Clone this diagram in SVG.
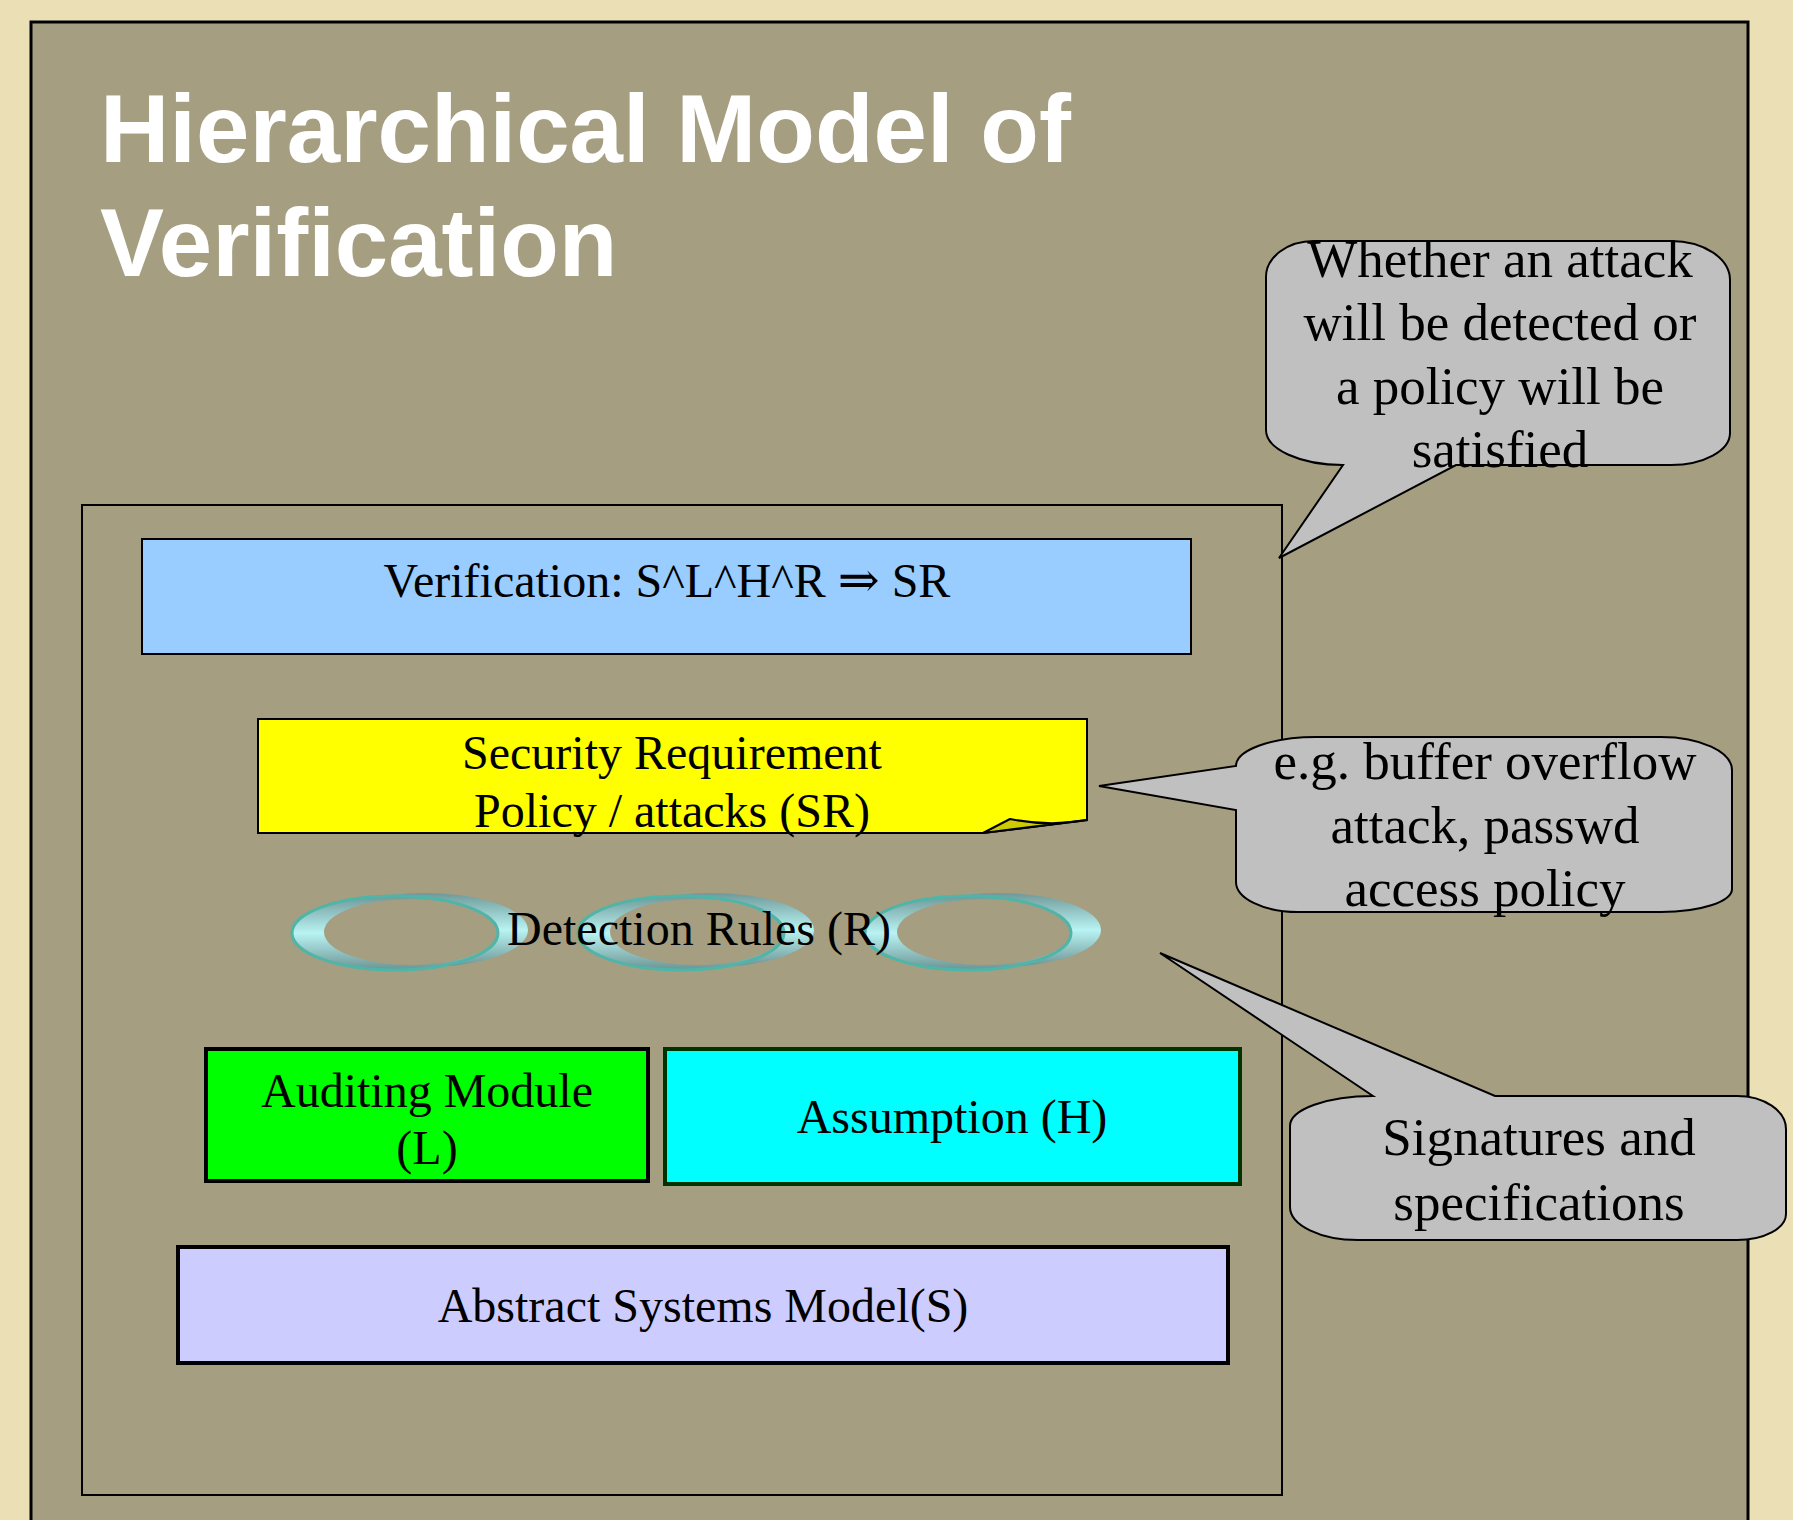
<svg xmlns="http://www.w3.org/2000/svg" xmlns:xlink="http://www.w3.org/1999/xlink" width="1793" height="1520" viewBox="0 0 1793 1520">
<style>
.serif{font-family:"Liberation Serif","Times New Roman",serif;fill:#000}
.t48{font-size:48px}
.t53{font-size:53px}
.title{font-family:"Liberation Sans",Arial,sans-serif;font-weight:bold;font-size:96px;fill:#fff}
.bubble{fill:#C0C0C0;stroke:#000;stroke-width:2;stroke-linejoin:miter}
.frame{fill:none;stroke:#000;stroke-width:2}
.arrow{font-family:"DejaVu Serif","DejaVu Sans",serif;font-size:50px}
</style>
<defs>
<linearGradient id="ringGrad" x1="0" y1="0" x2="0" y2="1">
<stop offset="0" stop-color="#6F9999"/>
<stop offset="0.5" stop-color="#B9F3F3"/>
<stop offset="1" stop-color="#6C9494"/>
</linearGradient>
<g id="ringShape">
<ellipse cx="30" cy="-3" rx="103" ry="37" fill="url(#ringGrad)"/>
<ellipse cx="0" cy="0" rx="103" ry="37" fill="url(#ringGrad)"/>
<ellipse cx="16" cy="-1" rx="87" ry="33" fill="#A59E80"/>
<ellipse cx="0" cy="0" rx="103" ry="37" fill="none" stroke="#4FB5A8" stroke-width="3"/>
</g>
</defs>
<rect x="0" y="0" width="1793" height="1520" fill="#EBDFB6"/>
<rect x="31" y="22" width="1717" height="1600" fill="#A59E80" stroke="#000" stroke-width="3"/>
<g id="title">
<text class="title" x="100" y="162">Hierarchical Model of</text>
<text class="title" x="100" y="276">Verification</text>
</g>
<g id="frame-inner">
<rect class="frame" x="82" y="505" width="1200" height="990"/>
</g>
<g id="connectors"></g>
<g id="node-verification">
<rect x="142" y="539" width="1049" height="115" fill="#99CCFF" stroke="#000" stroke-width="2"/>
<text class="serif t48" x="667" y="597" text-anchor="middle">Verification: S^L^H^R <tspan class="arrow">⇒</tspan> SR</text>
</g>
<g id="node-security-requirement">
<path d="M258,719 H1087 V820 L983,833 H258 Z" fill="#FFFF00" stroke="#000" stroke-width="2"/>
<path d="M983,833 L1010,819 Q1050,827 1087,820 Z" fill="#CCCC00" stroke="#000" stroke-width="2" stroke-linejoin="round"/>
<text class="serif t48" x="672" y="769" text-anchor="middle">Security Requirement</text>
<text class="serif t48" x="672" y="827" text-anchor="middle">Policy / attacks (SR)</text>
</g>
<g id="node-detection-rules">
<use xlink:href="#ringShape" x="395" y="933"/>
<use xlink:href="#ringShape" x="681" y="933"/>
<use xlink:href="#ringShape" x="968" y="933"/>
<text class="serif t48" x="699" y="945" text-anchor="middle">Detection Rules (R)</text>
</g>
<g id="node-auditing">
<rect x="206" y="1049" width="442" height="132" fill="#00FF00" stroke="#000" stroke-width="4"/>
<text class="serif t48" x="427" y="1107" text-anchor="middle">Auditing Module</text>
<text class="serif t48" x="427" y="1164" text-anchor="middle">(L)</text>
</g>
<g id="node-assumption">
<rect x="665" y="1049" width="575" height="135" fill="#00FFFF" stroke="#003300" stroke-width="4"/>
<text class="serif t48" x="952" y="1133" text-anchor="middle">Assumption (H)</text>
</g>
<g id="node-abstract">
<rect x="178" y="1247" width="1050" height="116" fill="#CCCCFF" stroke="#000" stroke-width="4"/>
<text class="serif t48" x="703" y="1322" text-anchor="middle">Abstract Systems Model(S)</text>
</g>
<g id="callout-1">
<path class="bubble" d="M1314,241 H1671 A59,39 0 0 1 1730,280 V433 A59,32 0 0 1 1671,465 H1456 L1279,558 L1343,465 A77,35 0 0 1 1266,430 V277 A48,36 0 0 1 1314,241 Z"/>
<text class="serif t53" x="1500" y="277" text-anchor="middle">Whether an attack</text>
<text class="serif t53" x="1500" y="340" text-anchor="middle">will be detected or</text>
<text class="serif t53" x="1500" y="404" text-anchor="middle">a policy will be</text>
<text class="serif t53" x="1500" y="467" text-anchor="middle">satisfied</text>
</g>
<g id="callout-2">
<path class="bubble" d="M1236,766 A80,29 0 0 1 1316,737 H1661 A71,33 0 0 1 1732,770 V889 A71,23 0 0 1 1661,912 H1298 A62,30 0 0 1 1236,882 V810 L1099,786 Z"/>
<text class="serif t53" x="1485" y="779" text-anchor="middle">e.g. buffer overflow</text>
<text class="serif t53" x="1485" y="843" text-anchor="middle">attack, passwd</text>
<text class="serif t53" x="1485" y="906" text-anchor="middle">access policy</text>
</g>
<g id="callout-3">
<path class="bubble" d="M1373,1096 L1160,953 L1495,1096 H1737 A49,33 0 0 1 1786,1129 V1214 A49,26 0 0 1 1737,1240 H1358 A68,33 0 0 1 1290,1207 V1126 A83,30 0 0 1 1373,1096 Z"/>
<text class="serif t53" x="1539" y="1155" text-anchor="middle">Signatures and</text>
<text class="serif t53" x="1539" y="1220" text-anchor="middle">specifications</text>
</g>
</svg>
